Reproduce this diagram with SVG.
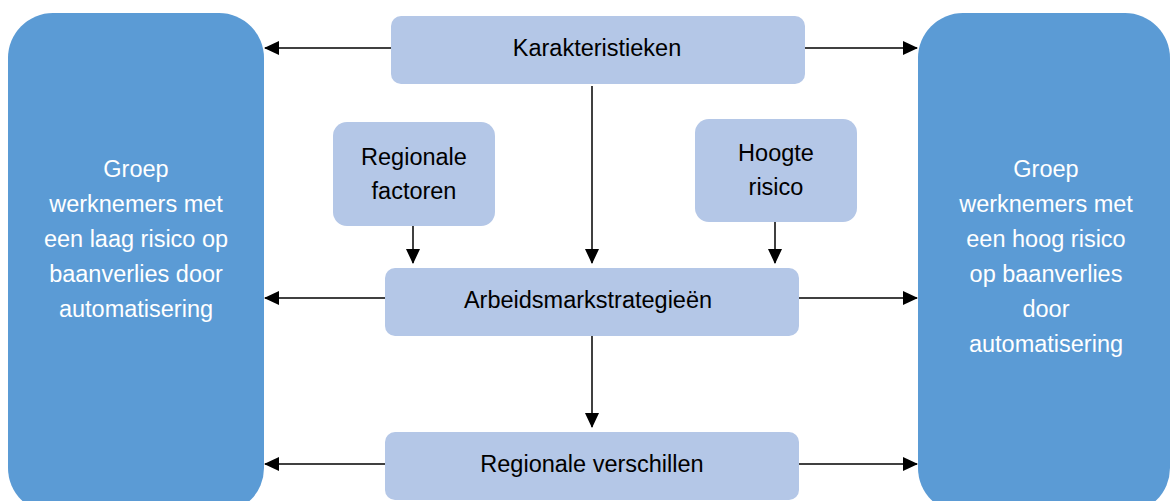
<svg xmlns="http://www.w3.org/2000/svg" width="1170" height="501" viewBox="0 0 1170 501">
<defs>
<style>
.big{fill:#5B9BD5}
.sm{fill:#B4C7E7}
.t{font-family:"Liberation Sans",Arial,sans-serif;font-size:23.5px;fill:#000;text-anchor:middle;dominant-baseline:central}
.tw{font-family:"Liberation Sans",Arial,sans-serif;font-size:23.5px;fill:#fff;text-anchor:middle;dominant-baseline:central}
.c{stroke:#000;stroke-width:1.5;fill:none;marker-end:url(#ah)}
</style>
<marker id="ah" markerWidth="15" markerHeight="14" refX="14" refY="7" orient="auto" markerUnits="userSpaceOnUse">
<path d="M0,0 L15,7 L0,14 Z" fill="#000"/>
</marker>
</defs>
<rect width="1170" height="501" fill="#fff"/>
<g id="left">
<rect class="big" x="8" y="13" width="256" height="500" rx="45"/>
<text class="tw"><tspan x="136" y="169">Groep</tspan><tspan x="136" y="204">werknemers met</tspan><tspan x="136" y="239">een laag risico op</tspan><tspan x="136" y="274">baanverlies door</tspan><tspan x="136" y="309">automatisering</tspan></text>
</g>
<g id="right">
<rect class="big" x="918" y="13" width="252" height="500" rx="45"/>
<text class="tw"><tspan x="1046" y="169">Groep</tspan><tspan x="1046" y="204">werknemers met</tspan><tspan x="1046" y="239">een hoog risico</tspan><tspan x="1046" y="274">op baanverlies</tspan><tspan x="1046" y="309">door</tspan><tspan x="1046" y="344">automatisering</tspan></text>
</g>
<g id="karakteristieken">
<rect class="sm" x="391" y="16" width="414" height="68" rx="10"/>
<text class="t" x="597" y="48">Karakteristieken</text>
</g>
<g id="regionale-factoren">
<rect class="sm" x="333" y="122" width="162" height="104" rx="14"/>
<text class="t"><tspan x="414" y="157">Regionale</tspan><tspan x="414" y="191">factoren</tspan></text>
</g>
<g id="hoogte-risico">
<rect class="sm" x="695" y="119" width="162" height="103" rx="14"/>
<text class="t"><tspan x="776" y="153">Hoogte</tspan><tspan x="776" y="187">risico</tspan></text>
</g>
<g id="arbeidsmarkt">
<rect class="sm" x="385" y="268" width="414" height="68" rx="10"/>
<text class="t" x="588" y="300">Arbeidsmarkstrategieën</text>
</g>
<g id="regionale-verschillen">
<rect class="sm" x="385" y="432" width="414" height="68" rx="10"/>
<text class="t" x="592" y="464">Regionale verschillen</text>
</g>
<g id="connectors">
<line class="c" x1="391" y1="48" x2="265" y2="48"/>
<line class="c" x1="805" y1="48" x2="917" y2="48"/>
<line class="c" x1="592" y1="86" x2="592" y2="263"/>
<line class="c" x1="413" y1="226" x2="413" y2="263"/>
<line class="c" x1="775" y1="222" x2="775" y2="263"/>
<line class="c" x1="385" y1="298" x2="265" y2="298"/>
<line class="c" x1="799" y1="298" x2="917" y2="298"/>
<line class="c" x1="592" y1="336" x2="592" y2="427"/>
<line class="c" x1="385" y1="464" x2="265" y2="464"/>
<line class="c" x1="799" y1="464" x2="917" y2="464"/>
</g>
</svg>
